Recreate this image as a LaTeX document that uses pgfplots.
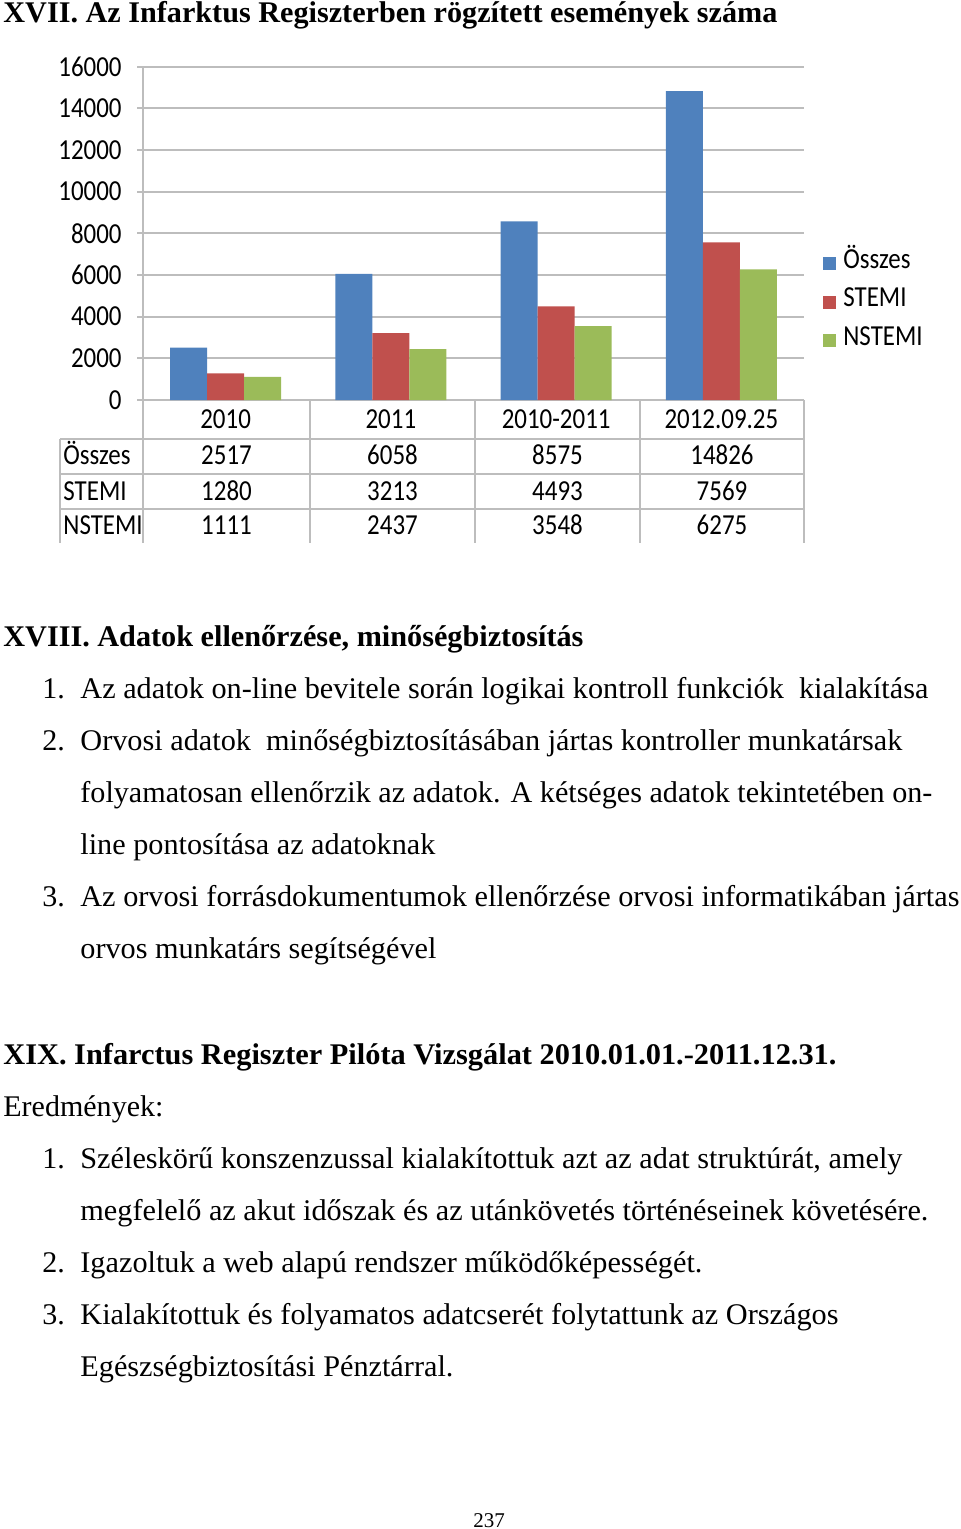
\documentclass[border=0pt]{standalone}
\usepackage{fontspec}
\setmainfont{Liberation Serif}
\newfontfamily\chartfont{Carlito}[FakeStretch=0.86]
\usepackage{graphicx}
\usepackage{pgfplots}
\pgfplotsset{compat=1.18}
\definecolor{oblue}{HTML}{4F81BD}
\definecolor{ored}{HTML}{C0504D}
\definecolor{ogreen}{HTML}{9BBB59}
\definecolor{gline}{HTML}{BDBDBD}
\newcommand{\cf}{\chartfont\fontsize{14.5pt}{16pt}\selectfont}
\newcommand{\tl}[4]{\node[anchor=base west, inner sep=0pt] at (#1,#2) {\resizebox{\dimexpr #3pt/2\relax}{\height}{#4}};}
\newcommand{\tn}[3]{\node[anchor=base west, inner sep=0pt] at (#1,#2) {#3};}
\begin{document}
\begin{tikzpicture}
\begin{axis}[
  at={(71.5pt,-200pt)}, anchor=south west, scale only axis,
  width=330.5pt, height=166.67pt,
  xmin=-0.5, xmax=3.5, ymin=0, ymax=16000,
  ybar=0pt, bar width=18.5pt,
  axis line style={draw=none},
  ytick={0,2000,...,16000}, ymajorgrids, grid style={gline, line width=0.9pt},
  tick pos=left, tick align=outside, major tick length=3pt,
  ytick style={gline, line width=0.9pt},
  xtick={0,1,2,3}, xticklabels={2010,2011,2010-2011,2012.09.25},
  xtick style={draw=none},
  xticklabel style={anchor=base, yshift=-11.25pt, inner sep=0pt},
  yticklabel style={anchor=east, inner sep=0pt, xshift=-7.5pt},
  ticklabel style={font=\cf},
  /pgf/number format/assume math mode=true,
  /pgf/number format/1000 sep={},
  scaled y ticks=false,
  legend style={draw=none, fill=none, at={(1.0287,0.438)}, anchor=north west,
    inner sep=0pt, row sep=9.75pt, font=\cf,
    nodes={inner sep=0pt, text height=7pt, text depth=2.5pt}},
  legend cell align=left,
  legend image code/.code={\fill[#1] (0pt,-3.25pt) rectangle (6.5pt,3.25pt); \path (10pt,0pt);},
  clip=false
]
\addplot[fill=oblue, draw=none] coordinates {(0,2517) (1,6058) (2,8575) (3,14826)};
\addplot[fill=ored, draw=none] coordinates {(0,1280) (1,3213) (2,4493) (3,7569)};
\addplot[fill=ogreen, draw=none] coordinates {(0,1111) (1,2437) (2,3548) (3,6275)};
\legend{Összes,STEMI,NSTEMI}
\end{axis}
\begin{scope}[x=0.5pt,y=-0.5pt]
\path[use as bounding box] (0,0) rectangle (960,1529);
% table grid
\draw[gline, line width=0.9pt] (143,66.7) -- (143,543);
\foreach \x in {310,475,640,804} \draw[gline, line width=0.9pt] (\x,400) -- (\x,543);
\draw[gline, line width=0.9pt] (60,439) -- (60,543);
\foreach \y in {439,474,509} \draw[gline, line width=0.9pt] (60,\y) -- (804,\y);
\begin{scope}[every node/.style={font=\cf, inner sep=0pt}]
\node[anchor=base west] at (63,465) {Összes};
\node[anchor=base west] at (63,500) {STEMI};
\node[anchor=base west] at (63,534.5) {NSTEMI};
\node[anchor=base] at (226.5,465) {2517};
\node[anchor=base] at (392.5,465) {6058};
\node[anchor=base] at (557.5,465) {8575};
\node[anchor=base] at (722,465) {14826};
\node[anchor=base] at (226.5,500) {1280};
\node[anchor=base] at (392.5,500) {3213};
\node[anchor=base] at (557.5,500) {4493};
\node[anchor=base] at (722,500) {7569};
\node[anchor=base] at (226.5,534.5) {1111};
\node[anchor=base] at (392.5,534.5) {2437};
\node[anchor=base] at (557.5,534.5) {3548};
\node[anchor=base] at (722,534.5) {6275};
\end{scope}
% page text
\begin{scope}[every node/.style={font=\fontsize{15pt}{18pt}\selectfont}]
\tl{3}{23}{774}{\bfseries XVII. Az Infarktus Regiszterben rögzített események száma}
\tl{3}{646}{580}{\bfseries XVIII. Adatok ellenőrzése, minőségbiztosítás}
\tn{42}{698}{1.}
\tl{80}{698}{848}{Az adatok on-line bevitele során logikai kontroll funkciók\ \ kialakítása}
\tn{42}{750}{2.}
\tl{80}{750}{822}{Orvosi adatok\ \ minőségbiztosításában jártas kontroller munkatársak}
\tl{80}{802}{852}{folyamatosan ellenőrzik az adatok. A kétséges adatok tekintetében on-}
\tl{80}{854}{355}{line pontosítása az adatoknak}
\tn{42}{906}{3.}
\tl{80}{906}{879}{Az orvosi forrásdokumentumok ellenőrzése orvosi informatikában jártas}
\tl{80}{958}{356}{orvos munkatárs segítségével}
\tl{3}{1064}{833}{\bfseries XIX. Infarctus Regiszter Pilóta Vizsgálat 2010.01.01.-2011.12.31.}
\tl{3}{1116}{160}{Eredmények:}
\tn{42}{1168}{1.}
\tl{80}{1168}{822}{Széleskörű konszenzussal kialakítottuk azt az adat struktúrát, amely}
\tl{80}{1220}{848}{megfelelő az akut időszak és az utánkövetés történéseinek követésére.}
\tn{42}{1272}{2.}
\tl{80}{1272}{622}{Igazoltuk a web alapú rendszer működőképességét.}
\tn{42}{1324}{3.}
\tl{80}{1324}{758}{Kialakítottuk és folyamatos adatcserét folytattunk az Országos}
\tl{80}{1376}{373}{Egészségbiztosítási Pénztárral.}
\end{scope}
\node[anchor=base, inner sep=0pt, font=\fontsize{10.5pt}{12pt}\selectfont] at (489,1527) {237};
\end{scope}
\end{tikzpicture}
\end{document}
